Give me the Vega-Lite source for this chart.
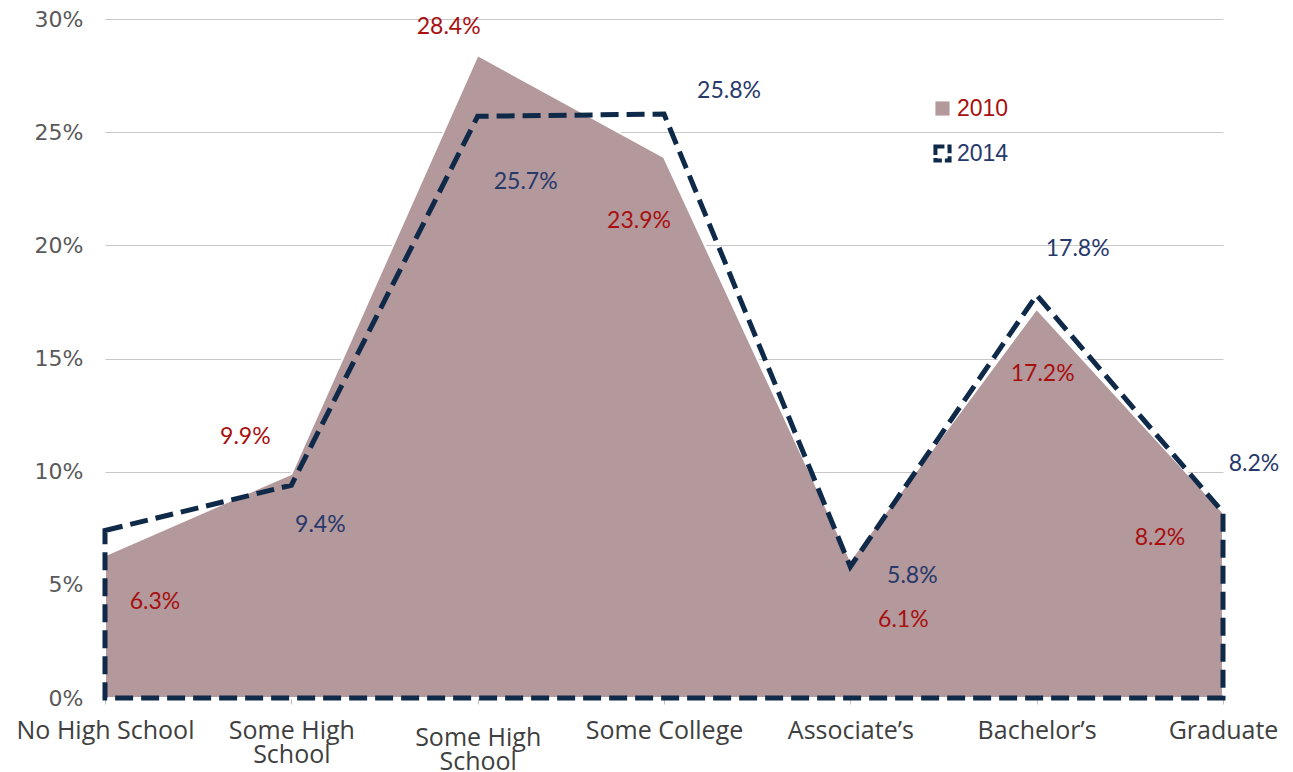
{
  "$schema": "https://vega.github.io/schema/vega-lite/v6.json",
  "autosize": {"type": "none"},
  "width": 1118,
  "height": 679,
  "padding": {"left": 105, "top": 19, "right": 70, "bottom": 74},
  "background": "white",
  "config": {"view": {"stroke": null}},
  "data": {"values": [
    {"idx": 0, "year": "2010", "pct": 0.063},
    {"idx": 1, "year": "2010", "pct": 0.099},
    {"idx": 2, "year": "2010", "pct": 0.284},
    {"idx": 3, "year": "2010", "pct": 0.239},
    {"idx": 4, "year": "2010", "pct": 0.061},
    {"idx": 5, "year": "2010", "pct": 0.172},
    {"idx": 6, "year": "2010", "pct": 0.082},
    {"idx": 0, "year": "2014", "pct": 0.074},
    {"idx": 1, "year": "2014", "pct": 0.094},
    {"idx": 2, "year": "2014", "pct": 0.257},
    {"idx": 3, "year": "2014", "pct": 0.258},
    {"idx": 4, "year": "2014", "pct": 0.058},
    {"idx": 5, "year": "2014", "pct": 0.178},
    {"idx": 6, "year": "2014", "pct": 0.082}
  ]},
  "encoding": {
    "x": {
      "field": "idx", "type": "ordinal",
      "scale": {"type": "point", "padding": 0},
      "axis": {
        "title": null, "labelAngle": 0,
        "labelExpr": "['No High School', ['Some High','School'], ['Some High','School'], 'Some College', 'Associate\u2019s', 'Bachelor\u2019s', 'Graduate'][datum.value]",
        "labelFont": "Open Sans", "labelFontSize": 25, "labelColor": "#404040",
        "labelLineHeight": 24, "labelBaseline": "top",
        "labelPadding": {"condition": {"test": "datum.value == 2", "value": 21}, "value": 14},
        "tickSize": 6, "tickColor": "#bfbfbf",
        "domainColor": "#bfbfbf", "domainWidth": 1, "grid": false
      }
    },
    "y": {
      "field": "pct", "type": "quantitative", "stack": null,
      "scale": {"domain": [0, 0.3], "nice": false},
      "axis": {
        "title": null, "values": [0, 0.05, 0.1, 0.15, 0.2, 0.25, 0.3],
        "format": ".0%", "labelFont": "DejaVu Sans", "labelFontSize": 22,
        "labelColor": "#595959", "labelPadding": 22, "ticks": false,
        "domain": false, "grid": true, "gridColor": "#c8c8c8", "gridWidth": 1.2
      }
    }
  },
  "layer": [
    {
      "transform": [{"filter": "datum.year == '2010'"}],
      "mark": {"type": "area", "interpolate": "linear", "stroke": "#ffffff", "strokeWidth": 2},
      "encoding": {
        "fill": {
          "field": "year", "type": "nominal",
          "scale": {"domain": ["2010", "2014"], "range": ["#b3989c", "rgba(255,255,255,0)"]},
          "legend": {
            "title": null, "orient": "none", "legendX": 826, "legendY": 78,
            "labelFont": "Liberation Sans", "labelFontSize": 23,
            "symbolType": "square", "symbolSize": 200, "rowPadding": 17, "labelOffset": 3,
            "labelColor": {"expr": "datum.value === '2010' ? '#a80f0f' : '#27386b'"},
            "symbolStrokeColor": {"expr": "datum.value === '2014' ? '#0f2949' : '#b3989c'"},
            "symbolStrokeWidth": {"expr": "datum.value === '2014' ? 4 : 0"},
            "symbolDash": {"expr": "datum.value === '2014' ? [9, 3] : [1, 0]"}
          }
        }
      }
    },
    {
      "transform": [{"filter": "datum.year == '2014'"}],
      "mark": {"type": "area", "interpolate": "linear", "stroke": "#0f2949", "strokeWidth": 5, "strokeDash": [18, 8]},
      "encoding": {
        "fill": {
          "field": "year", "type": "nominal",
          "legend": {
            "title": null, "orient": "none", "legendX": 826, "legendY": 78,
            "labelFont": "Liberation Sans", "labelFontSize": 23,
            "symbolType": "square", "symbolSize": 200, "rowPadding": 17, "labelOffset": 3,
            "labelColor": {"expr": "datum.value === '2010' ? '#a80f0f' : '#27386b'"},
            "symbolStrokeColor": {"expr": "datum.value === '2014' ? '#0f2949' : '#b3989c'"},
            "symbolStrokeWidth": {"expr": "datum.value === '2014' ? 4 : 0"},
            "symbolDash": {"expr": "datum.value === '2014' ? [9, 3] : [1, 0]"}
          }
        }
      }
    },
    {"transform": [{"filter": "datum.year == '2010' && datum.idx == 0"}], "mark": {"type": "text", "dx": 50, "dy": 47, "font": "Lato", "fontSize": 23, "color": "#a80f0f"}, "encoding": {"text": {"field": "pct", "format": ".1%"}}},
    {"transform": [{"filter": "datum.year == '2010' && datum.idx == 1"}], "mark": {"type": "text", "dx": -46, "dy": -37, "font": "Lato", "fontSize": 23, "color": "#a80f0f"}, "encoding": {"text": {"field": "pct", "format": ".1%"}}},
    {"transform": [{"filter": "datum.year == '2010' && datum.idx == 2"}], "mark": {"type": "text", "dx": -29, "dy": -28, "font": "Lato", "fontSize": 23, "color": "#a80f0f"}, "encoding": {"text": {"field": "pct", "format": ".1%"}}},
    {"transform": [{"filter": "datum.year == '2010' && datum.idx == 3"}], "mark": {"type": "text", "dx": -25, "dy": 64, "font": "Lato", "fontSize": 23, "color": "#a80f0f"}, "encoding": {"text": {"field": "pct", "format": ".1%"}}},
    {"transform": [{"filter": "datum.year == '2010' && datum.idx == 4"}], "mark": {"type": "text", "dx": 53, "dy": 60, "font": "Lato", "fontSize": 23, "color": "#a80f0f"}, "encoding": {"text": {"field": "pct", "format": ".1%"}}},
    {"transform": [{"filter": "datum.year == '2010' && datum.idx == 5"}], "mark": {"type": "text", "dx": 6, "dy": 65, "font": "Lato", "fontSize": 23, "color": "#a80f0f"}, "encoding": {"text": {"field": "pct", "format": ".1%"}}},
    {"transform": [{"filter": "datum.year == '2010' && datum.idx == 6"}], "mark": {"type": "text", "dx": -63, "dy": 26, "font": "Lato", "fontSize": 23, "color": "#a80f0f"}, "encoding": {"text": {"field": "pct", "format": ".1%"}}},
    {"transform": [{"filter": "datum.year == '2014' && datum.idx == 1"}], "mark": {"type": "text", "dx": 29, "dy": 40, "font": "Lato", "fontSize": 23, "color": "#27386b"}, "encoding": {"text": {"field": "pct", "format": ".1%"}}},
    {"transform": [{"filter": "datum.year == '2014' && datum.idx == 2"}], "mark": {"type": "text", "dx": 48, "dy": 66, "font": "Lato", "fontSize": 23, "color": "#27386b"}, "encoding": {"text": {"field": "pct", "format": ".1%"}}},
    {"transform": [{"filter": "datum.year == '2014' && datum.idx == 3"}], "mark": {"type": "text", "dx": 65, "dy": -23, "font": "Lato", "fontSize": 23, "color": "#27386b"}, "encoding": {"text": {"field": "pct", "format": ".1%"}}},
    {"transform": [{"filter": "datum.year == '2014' && datum.idx == 4"}], "mark": {"type": "text", "dx": 62, "dy": 9, "font": "Lato", "fontSize": 23, "color": "#27386b"}, "encoding": {"text": {"field": "pct", "format": ".1%"}}},
    {"transform": [{"filter": "datum.year == '2014' && datum.idx == 5"}], "mark": {"type": "text", "dx": 41, "dy": -46, "font": "Lato", "fontSize": 23, "color": "#27386b"}, "encoding": {"text": {"field": "pct", "format": ".1%"}}},
    {"transform": [{"filter": "datum.year == '2014' && datum.idx == 6"}], "mark": {"type": "text", "dx": 31, "dy": -48, "font": "Lato", "fontSize": 23, "color": "#27386b"}, "encoding": {"text": {"field": "pct", "format": ".1%"}}}
  ]
}
